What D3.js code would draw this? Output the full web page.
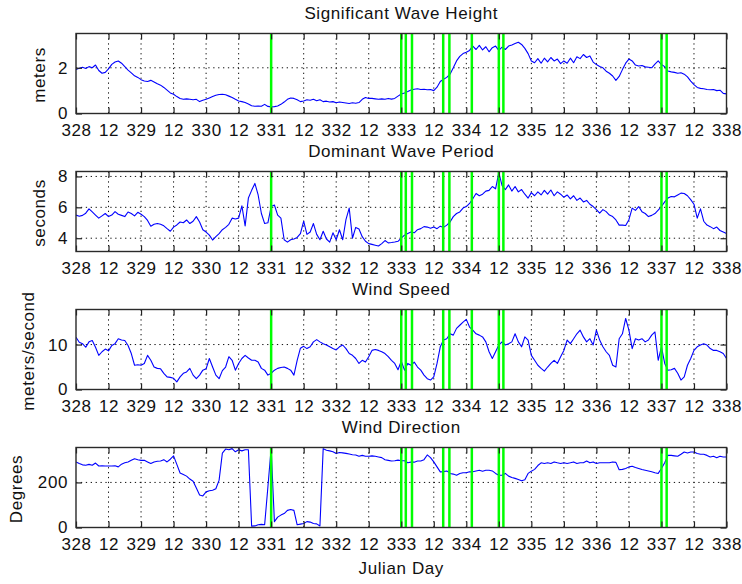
<!DOCTYPE html>
<html>
<head>
<meta charset="utf-8">
<script src="https://cdn.jsdelivr.net/npm/d3@7"></script>
<style>
  html, body { margin: 0; padding: 0; background: #fff; }
  svg { display: block; font-family: "Liberation Sans", Arial, Helvetica, sans-serif; }
</style>
</head>
<body>
<svg id="chart" width="742" height="584"></svg>
<script>
// samples every 0.05 day starting at day 328
const startDay = 328;
const stepDay = 0.05;

const xTickValues = [328, 328.5, 329, 329.5, 330, 330.5, 331, 331.5, 332, 332.5, 333,
  333.5, 334, 334.5, 335, 335.5, 336, 336.5, 337, 337.5, 338];
const xTickLabels = ['328', '12', '329', '12', '330', '12', '331', '12', '332', '12', '333',
  '12', '334', '12', '335', '12', '336', '12', '337', '12', '338'];

// green event markers (julian day)
const markerDays = [331.0, 333.0, 333.07, 333.165, 333.645, 333.74, 334.085, 334.5, 334.57, 337.0, 337.08];

const heightValues = [
  1.92, 1.98, 2.02, 1.97, 2.05, 2.00, 2.12, 1.88, 1.76, 1.80, 1.95,
  2.15, 2.25, 2.30, 2.20, 2.05, 1.90, 1.78, 1.65, 1.58, 1.48,
  1.42, 1.40, 1.45, 1.38, 1.30, 1.24, 1.14, 1.02, 0.90, 0.84,
  0.74, 0.66, 0.62, 0.64, 0.62, 0.60, 0.62, 0.52, 0.58, 0.62,
  0.68, 0.74, 0.80, 0.83, 0.84, 0.82, 0.76, 0.70, 0.62, 0.55,
  0.52, 0.48, 0.42, 0.34, 0.32, 0.33, 0.32, 0.40, 0.31, 0.29,
  0.30, 0.33, 0.40, 0.50, 0.62, 0.68, 0.66, 0.60, 0.52, 0.55,
  0.60, 0.58, 0.62, 0.56, 0.60, 0.52, 0.54, 0.50, 0.52, 0.47,
  0.50, 0.48, 0.46, 0.44, 0.47, 0.45, 0.48, 0.62, 0.70, 0.66,
  0.66, 0.64, 0.62, 0.64, 0.62, 0.66, 0.63, 0.66, 0.76, 0.85,
  0.90, 0.96, 1.03, 1.06, 1.08, 1.05, 1.06, 1.04, 1.05, 1.00,
  1.15, 1.40, 1.50, 1.58, 1.72, 2.00, 2.30, 2.50, 2.62, 2.68,
  2.76, 2.95, 2.80, 2.98, 2.78, 2.92, 2.70, 2.88, 2.95, 2.76,
  2.90, 2.80, 2.95, 3.00, 3.06, 3.12, 3.02, 2.85, 2.62, 2.30,
  2.22, 2.40, 2.20, 2.42, 2.26, 2.45, 2.30, 2.38, 2.18, 2.30,
  2.20, 2.42, 2.22, 2.48, 2.40, 2.58, 2.45, 2.52, 2.25, 2.14,
  2.06, 2.00, 1.85, 1.76, 1.64, 1.45, 1.62, 1.92, 2.20, 2.38,
  2.30, 2.12, 2.08, 2.10, 2.04, 2.02, 2.00, 2.16, 2.30, 2.14,
  2.05, 1.86, 1.82, 1.80, 1.76, 1.78, 1.72, 1.60, 1.42, 1.26,
  1.14, 1.10, 1.08, 1.05, 1.04, 1.05, 1.00, 1.02, 0.88, 0.86
];

const periodValues = [
  5.50, 5.42, 5.48, 5.62, 5.90, 5.70, 5.50, 5.30, 5.45, 5.60, 5.40,
  5.50, 5.72, 5.55, 5.48, 5.40, 5.70, 5.60, 5.45, 5.68, 5.55,
  5.40, 5.15, 4.78, 4.90, 4.95, 4.90, 4.80, 4.62, 4.45, 4.72,
  4.86, 5.05, 5.00, 5.18, 4.95, 5.10, 5.40, 5.05, 4.55, 4.40,
  4.20, 3.88, 4.10, 4.30, 4.55, 4.70, 4.90, 5.30, 5.25, 5.30,
  6.10, 4.80, 6.60, 7.10, 7.55, 6.80, 5.60, 4.95, 5.00, 6.05,
  6.15, 5.50, 5.30, 3.90, 3.75, 3.90, 3.95, 4.05, 4.30, 5.10,
  4.25, 4.40, 4.95, 4.25, 3.90, 4.45, 3.95, 3.75, 4.35, 3.90,
  4.55, 3.90, 5.20, 5.95, 4.00, 4.70, 4.60, 4.10, 3.80, 3.65,
  3.60, 3.55, 3.50, 3.65, 3.85, 3.70, 3.72, 3.75, 3.80, 4.00,
  4.20, 4.30, 4.40, 4.35, 4.55, 4.62, 4.75, 4.72, 4.65, 4.72,
  4.62, 4.78, 4.70, 4.85, 5.05, 5.40, 5.60, 5.70, 5.95, 6.05,
  6.25, 6.55, 6.90, 6.75, 6.85, 7.05, 7.10, 7.35, 7.20, 8.25,
  7.40, 7.15, 7.45, 7.05, 7.35, 7.00, 7.15, 6.85, 6.60, 6.95,
  6.75, 7.00, 6.80, 7.10, 6.85, 7.12, 6.75, 7.00, 6.85, 6.65,
  6.80, 6.55, 6.75, 6.45, 6.60, 6.35, 6.45, 6.20, 6.05, 5.85,
  5.62, 5.85, 5.72, 5.50, 5.40, 5.18, 4.85, 4.85, 4.82, 5.20,
  5.95, 5.80, 6.05, 5.72, 5.60, 5.40, 5.48, 5.60, 5.82, 6.05,
  6.35, 6.60, 6.70, 6.68, 6.80, 6.92, 6.90, 6.75, 6.50, 6.20,
  5.30, 5.90, 5.10, 4.85, 4.75, 4.62, 4.72, 4.50, 4.40, 4.30
];

const speedValues = [
  11.6, 10.5, 10.2, 9.4, 10.6, 10.9, 9.4, 7.6, 8.4, 9.0, 8.6,
  9.8, 10.2, 11.3, 11.0, 10.9, 9.8, 8.0, 5.4, 5.5, 5.4,
  5.8, 7.6, 6.5, 5.0, 4.7, 4.6, 3.6, 2.8, 2.7, 2.5,
  1.7, 2.8, 3.6, 3.9, 4.7, 3.2, 2.4, 3.2, 4.3, 4.6,
  6.9, 5.0, 3.2, 2.4, 4.2, 5.0, 7.3, 6.5, 4.3, 5.8,
  6.9, 7.6, 7.0, 6.5, 6.5, 6.1, 4.7, 4.3, 3.2, 3.6,
  4.3, 4.7, 4.9, 5.0, 4.7, 4.3, 3.2, 6.5, 9.2, 9.6,
  9.1, 9.5, 10.6, 11.1, 10.6, 10.2, 9.9, 9.5, 9.1, 8.8,
  9.5, 9.9, 9.1, 8.0, 7.6, 6.9, 5.8, 6.5, 6.1, 7.3,
  8.7, 8.9, 8.7, 8.4, 8.0, 7.3, 6.5, 5.8, 4.4, 6.3,
  4.3, 5.8, 5.4, 6.1, 5.0, 4.3, 3.2, 2.4, 2.1, 2.8,
  5.8, 9.5, 11.0, 11.3, 12.4, 12.1, 13.6, 14.3, 15.0, 15.6,
  13.9, 13.2, 12.4, 12.1, 11.7, 10.6, 8.4, 6.9, 8.4, 9.9,
  10.6, 9.9, 10.2, 10.6, 12.4, 10.6, 9.5, 11.7, 11.0, 7.6,
  6.5, 5.4, 4.7, 4.1, 5.0, 5.8, 6.5, 5.8, 7.3, 8.7,
  11.0, 10.2, 11.3, 12.4, 13.2, 11.7, 10.6, 11.3, 9.9, 13.2,
  11.0, 9.5, 8.4, 7.6, 5.4, 5.0, 11.3, 12.4, 15.8, 13.2,
  9.1, 11.3, 11.0, 11.3, 10.6, 11.0, 12.1, 12.8, 6.5, 9.5,
  5.8, 4.3, 4.4, 4.7, 3.6, 2.1, 2.8, 5.4, 6.9, 8.7,
  9.5, 9.9, 10.2, 9.9, 9.1, 8.7, 8.7, 8.4, 8.0, 6.9
];

const directionValues = [
  291, 284, 278, 276, 280, 276, 286, 273, 274, 273, 273,
  273, 274, 269, 281, 287, 291, 298, 305, 301, 298,
  298, 291, 284, 291, 294, 295, 301, 291, 303, 318,
  280, 242, 235, 228, 215, 205, 175, 144, 140, 158,
  163, 165, 172, 210, 330, 348, 345, 350, 336, 345,
  340, 345, 345, 6, 7, 12, 14, 12, 180, 352,
  26, 46, 55, 62, 76, 80, 76, 12, 15, 18,
  26, 24, 18, 16, 7, 350, 343, 340, 336, 328,
  333, 331, 329, 326, 323, 322, 316, 320, 316, 316,
  318, 316, 313, 310, 301, 298, 295, 296, 299, 296,
  296, 287, 290, 290, 295, 295, 301, 322, 310, 291,
  269, 247, 248, 251, 240, 237, 232, 240, 243, 243,
  247, 247, 251, 254, 250, 254, 254, 251, 240, 232,
  232, 240, 228, 222, 218, 213, 207, 212, 240, 250,
  258, 275, 287, 284, 287, 284, 291, 287, 284, 287,
  284, 287, 291, 284, 287, 287, 295, 287, 291, 284,
  287, 287, 287, 287, 291, 289, 256, 258, 262, 269,
  272, 266, 262, 257, 254, 251, 247, 243, 240, 262,
  287, 320, 320, 318, 316, 325, 335, 331, 335, 335,
  328, 325, 325, 320, 313, 316, 310, 316, 313, 313
];

const heightDomain = [0, 3.5];
const periodDomain = [3.14, 8.32];
const speedDomain = [0, 17.8];
const directionDomain = [0, 355];

const heightTicks = [0, 2];
const periodTicks = [4, 6, 8];
const speedTicks = [0, 10];
const directionTicks = [0, 200];

const panels = [
  { title: 'Significant Wave Height', ylabel: 'meters', values: heightValues, domain: heightDomain, ticks: heightTicks, top: 33.5, labelX: 45 },
  { title: 'Dominant Wave Period', ylabel: 'seconds', values: periodValues, domain: periodDomain, ticks: periodTicks, top: 171.5, labelX: 45 },
  { title: 'Wind Speed', ylabel: 'meters/second', values: speedValues, domain: speedDomain, ticks: speedTicks, top: 309.5, labelX: 34 },
  { title: 'Wind Direction', ylabel: 'Degrees', values: directionValues, domain: directionDomain, ticks: directionTicks, top: 447.5, labelX: 22 }
];

const left = 76, right = 726.5, panelH = 80;
const fontSize = '17px', spacing = '0.6px';
const svg = d3.select('#chart');

const x = d3.scaleLinear().domain([328, 338]).range([left, right]);

panels.forEach((p, k) => {
  const y = d3.scaleLinear().domain(p.domain).range([p.top + panelH, p.top]);
  const g = svg.append('g');

  g.append('clipPath').attr('id', 'clip' + k)
    .append('rect').attr('x', left).attr('y', p.top).attr('width', right - left).attr('height', panelH);

  // dotted grid
  g.append('g').selectAll('line').data(xTickValues.slice(1, -1)).join('line')
    .attr('x1', d => x(d)).attr('x2', d => x(d))
    .attr('y1', p.top).attr('y2', p.top + panelH)
    .attr('stroke', '#111').attr('stroke-width', 1).attr('stroke-dasharray', '1.3,3.6');
  g.append('g').selectAll('line').data(p.ticks.filter(t => y(t) > p.top + 1 && y(t) < p.top + panelH - 1)).join('line')
    .attr('x1', left).attr('x2', right)
    .attr('y1', d => y(d)).attr('y2', d => y(d))
    .attr('stroke', '#111').attr('stroke-width', 1).attr('stroke-dasharray', '1.3,3.6');

  // data line
  const line = d3.line()
    .x((d, i) => x(startDay + i * stepDay))
    .y(d => y(d));
  g.append('path').datum(p.values)
    .attr('clip-path', `url(#clip${k})`)
    .attr('fill', 'none').attr('stroke', '#0000ff').attr('stroke-width', 1.1)
    .attr('stroke-linejoin', 'round')
    .attr('d', line);

  // event markers
  g.append('g').selectAll('line').data(markerDays).join('line')
    .attr('x1', d => x(d)).attr('x2', d => x(d))
    .attr('y1', p.top).attr('y2', p.top + panelH)
    .attr('stroke', '#00ff00').attr('stroke-width', 2.5);

  // axes, ticks pointing inward
  g.append('g').attr('transform', `translate(0,${p.top + panelH})`)
    .call(d3.axisBottom(x).tickValues(xTickValues).tickFormat((d, i) => xTickLabels[i]).tickSize(-6).tickPadding(10));
  g.append('g').attr('transform', `translate(0,${p.top})`)
    .call(d3.axisTop(x).tickValues(xTickValues).tickFormat('').tickSize(-6));
  g.append('g').attr('transform', `translate(${left},0)`)
    .call(d3.axisLeft(y).tickValues(p.ticks).tickFormat(d3.format('d')).tickSize(-6).tickPadding(8));
  g.append('g').attr('transform', `translate(${right},0)`)
    .call(d3.axisRight(y).tickValues(p.ticks).tickFormat('').tickSize(-6));

  g.selectAll('.domain').remove();
  g.selectAll('.tick line').attr('stroke', '#222').attr('stroke-width', 1.2);
  g.selectAll('.tick text').attr('fill', '#111')
    .style('font-size', fontSize).style('letter-spacing', spacing)
    .style('font-family', '"Liberation Sans", Arial, sans-serif');

  // box
  g.append('rect').attr('x', left).attr('y', p.top).attr('width', right - left).attr('height', panelH)
    .attr('fill', 'none').attr('stroke', '#2a2a2a').attr('stroke-width', 1.4);

  // title and y label
  g.append('text').attr('x', (left + right) / 2).attr('y', p.top - 14.2)
    .attr('text-anchor', 'middle').attr('fill', '#111')
    .style('font-size', fontSize).style('letter-spacing', spacing)
    .text(p.title);
  g.append('text')
    .attr('transform', `translate(${p.labelX},${p.top + panelH / 2 + 1.5}) rotate(-90)`)
    .attr('text-anchor', 'middle').attr('fill', '#111')
    .style('font-size', fontSize).style('letter-spacing', spacing)
    .text(p.ylabel);
});

svg.append('text').attr('x', (left + right) / 2).attr('y', 573.5)
  .attr('text-anchor', 'middle').attr('fill', '#111')
  .style('font-size', fontSize).style('letter-spacing', spacing)
  .text('Julian Day');
</script>
</body>
</html>
